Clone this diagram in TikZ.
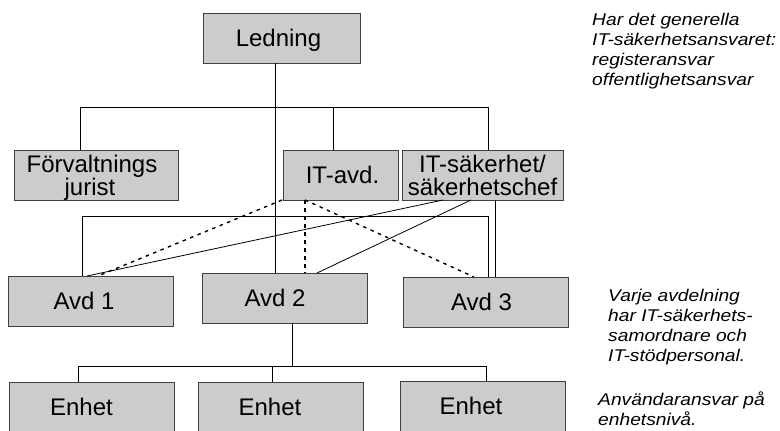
\documentclass[tikz,border=0pt]{standalone}
\usepackage{fontspec}
\setmainfont{Liberation Sans}
\newfontfamily\annotfont{Liberation Sans Italic}
\begin{document}
\begin{tikzpicture}[x=1pt,y=-1pt,
  box/.style={draw=black!75, fill=black!20, line width=0.8pt, inner sep=0pt, outer sep=0pt,
    anchor=north west, align=center, text depth=0pt,
    font=\fontsize{24}{23}\selectfont, minimum height=50pt},
  annot/.style={anchor=base west, align=left, inner sep=0pt, transform shape,
    font=\annotfont\fontsize{17}{19.7}\selectfont},
  conn/.style={draw=black, line width=0.8pt},
  dashconn/.style={draw=black, line width=1.4pt, dash pattern=on 3.5pt off 4.5pt}]
\useasboundingbox (0,0) rectangle (780,431);

% boxes
\node[box, minimum width=157pt] (led) at (203,13) {Ledning\hspace*{6pt}};
\node[box, minimum width=164pt] (forv) at (14,150) {Förvaltnings\hspace*{8pt}\\jurist\hspace*{12pt}};
\node[box, minimum width=115pt] (itavd) at (283,150) {\hspace*{4pt}IT-avd.};
\node[box, minimum width=161pt] (itsak) at (402,150) {IT-säkerhet/\\säkerhetschef};
\node[box, minimum width=165pt] (avd1) at (8,276) {Avd 1\hspace*{13pt}};
\node[box, minimum width=165pt] (avd2) at (202,273) {Avd 2\hspace*{19pt}};
\node[box, minimum width=165pt] (avd3) at (403,277) {Avd 3\hspace*{8pt}};
\node[box, minimum width=165pt] (enh1) at (9,382) {Enhet\hspace*{20pt}};
\node[box, minimum width=165pt] (enh2) at (198,382) {Enhet\hspace*{21pt}};
\node[box, minimum width=165pt] (enh3) at (400,381) {Enhet\hspace*{23pt}};

% annotations (base anchor = baseline of the last line), stretched horizontally
\begin{scope}[shift={(592,85)}, xscale=1.13]
\node[annot] (a1) at (0,0) {Har det generella\\IT-säkerhetsansvaret:\\registeransvar\\offentlighetsansvar};
\end{scope}
\begin{scope}[shift={(608,361)}, xscale=1.13]
\node[annot] (a2) at (0,0) {Varje avdelning\\har IT-säkerhets-\\samordnare och\\IT-stödpersonal.};
\end{scope}
\begin{scope}[shift={(598,425)}, xscale=1.13]
\node[annot] (a3) at (0,0) {Användaransvar på\\enhetsnivå.};
\end{scope}

% junction coordinates
\coordinate (trunk) at (275,107);
\coordinate (h1L) at (80,107);
\coordinate (h1M) at (333,107);
\coordinate (h1R) at (488,107);
\coordinate (h2L) at (82,216);
\coordinate (h2R) at (488,216);
\coordinate (v3) at (495,216);
\coordinate (s1a) at (443,0);
\coordinate (s1b) at (87,0);
\coordinate (s2a) at (471,0);
\coordinate (s2b) at (317,0);
\coordinate (d1a) at (282,0);
\coordinate (d1b) at (98,0);
\coordinate (dv) at (305,0);
\coordinate (d3b) at (474,0);
\coordinate (h3) at (292,366);
\coordinate (h3L) at (78,366);
\coordinate (h3M) at (272,366);
\coordinate (h3R) at (486,366);

% connectors
\draw[conn] (led.south -| trunk) -- (avd2.north -| trunk);
\draw[conn] (forv.north -| h1L) -- (h1L) -- (h1R) -- (itsak.north -| h1R);
\draw[conn] (h1M) -- (itavd.north -| h1M);
\draw[conn] (avd1.north -| h2L) -- (h2L) -- (h2R) -- (avd3.north -| h2R);
\draw[conn] (itsak.south -| v3) -- (avd3.north -| v3);
\draw[conn] (itsak.south -| s1a) -- (avd1.north -| s1b);
\draw[conn] (itsak.south -| s2a) -- (avd2.north -| s2b);
\draw[dashconn] (itavd.south -| d1a) -- (avd1.north -| d1b);
\draw[dashconn] (itavd.south -| dv) -- (avd2.north -| dv);
\draw[dashconn] (itavd.south -| dv) -- (avd3.north -| d3b);
\draw[conn] (avd2.south -| h3) -- (h3);
\draw[conn] (enh1.north -| h3L) -- (h3L) -- (h3R) -- (enh3.north -| h3R);
\draw[conn] (h3M) -- (enh2.north -| h3M);
\end{tikzpicture}
\end{document}
